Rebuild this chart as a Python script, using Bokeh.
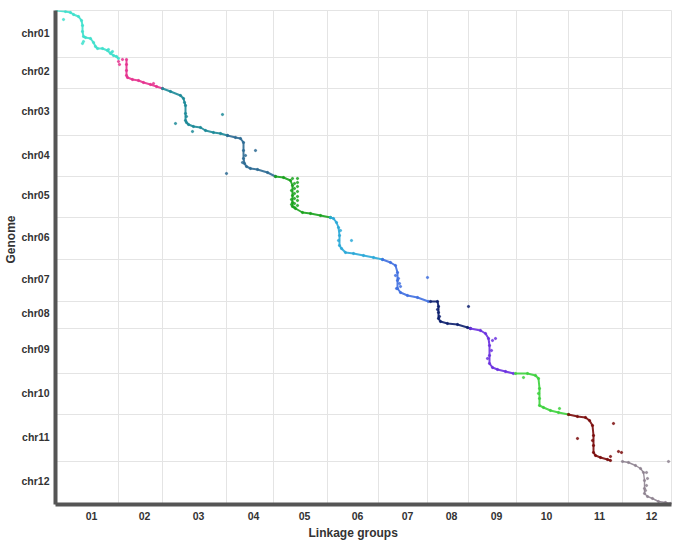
from bokeh.plotting import figure
from bokeh.models import Range1d, FixedTicker, Title
from bokeh.embed import file_html
from bokeh.resources import INLINE

# ---------------- data ----------------
LG_LABELS = ["01", "02", "03", "04", "05", "06", "07", "08", "09", "10", "11", "12"]
LG_BOUNDS = [0, 63, 107, 171, 218, 272, 323, 372, 413, 461, 513, 567, 616]
CHR_LABELS = ["chr01", "chr02", "chr03", "chr04", "chr05", "chr06",
              "chr07", "chr08", "chr09", "chr10", "chr11", "chr12"]
CHR_BOUNDS = [0, 47, 78, 125, 166, 207, 249, 291, 318, 363, 404, 451, 494]
COLORS = ["#3fe0cc", "#e6338f", "#1c8a98", "#2c6a93", "#18a21c", "#2aa9d8",
          "#3f6fe0", "#0c1f6e", "#6a30e0", "#3dd13d", "#7a0b0b", "#8e8390"]

# main marker chains (cumulative map position, cumulative genome position)
CHR01_MAP = [1, 10, 15, 18, 23, 26, 27, 27, 28, 30, 35, 38, 40, 42, 47, 52, 55, 58, 61, 63]
CHR01_POS = [0, 1, 2, 4, 6, 10, 15, 21, 26, 27, 28, 32, 36, 38, 38, 40, 43, 45, 46, 48]
CHR02_MAP = [71, 71, 71, 71, 72, 77, 83, 88, 95, 101, 107]
CHR02_POS = [49, 54, 60, 65, 67, 69, 70, 72, 74, 76, 78]
CHR03_MAP = [107, 115, 125, 128, 130, 130, 130, 131, 133, 138, 145, 150, 158, 165, 172]
CHR03_POS = [78, 81, 85, 88, 95, 103, 110, 112, 114, 116, 117, 120, 122, 123, 125]
CHR04_MAP = [172, 180, 185, 188, 188, 188, 189, 191, 195, 202, 212, 220]
CHR04_POS = [125, 127, 128, 132, 140, 148, 153, 156, 158, 159, 162, 166]
CHR05_MAP = [220, 228, 235, 237, 237, 237, 237, 240, 247, 255, 265, 275]
CHR05_POS = [166, 167, 170, 175, 185, 192, 196, 198, 202, 203, 205, 207]
CHR06_MAP = [275, 278, 281, 283, 284, 284, 286, 290, 298, 308, 318, 327]
CHR06_POS = [207, 208, 212, 217, 225, 235, 238, 242, 243, 245, 247, 249]
CHR07_MAP = [327, 335, 340, 342, 342, 342, 345, 352, 362, 373]
CHR07_POS = [249, 252, 255, 262, 270, 278, 282, 285, 287, 291]
CHR08_MAP = [375, 382, 383, 383, 383, 385, 392, 402, 412, 415]
CHR08_POS = [291, 291, 296, 302, 308, 311, 313, 314, 317, 318]
CHR09_MAP = [415, 425, 430, 433, 434, 434, 434, 437, 442, 450, 458]
CHR09_POS = [318, 320, 323, 328, 335, 345, 353, 357, 359, 361, 363]
CHR10_MAP = [460, 472, 480, 483, 484, 484, 484, 488, 495, 503, 513]
CHR10_POS = [363, 363, 365, 368, 378, 388, 395, 397, 400, 402, 404]
CHR11_MAP = [513, 522, 530, 534, 537, 538, 538, 538, 540, 545, 552, 555]
CHR11_POS = [404, 406, 407, 410, 415, 425, 435, 442, 445, 447, 449, 450]
CHR12_MAP = [567, 573, 580, 585, 588, 589, 589, 589, 592, 597, 603, 610, 615]
CHR12_POS = [451, 452, 455, 458, 462, 470, 478, 483, 486, 488, 491, 492, 493]

# scattered / off-chain markers
CHR01_OUT_MAP = [8, 28, 27, 53, 56, 57]
CHR01_OUT_POS = [9, 31, 33, 39, 42, 41]
CHR02_OUT_MAP = [63, 67, 64, 98]
CHR02_OUT_POS = [51, 49, 54, 73]
CHR03_OUT_MAP = [120, 137, 167, 129, 131]
CHR03_OUT_POS = [113, 121, 104, 92, 106]
CHR04_OUT_MAP = [200, 171, 190, 187]
CHR04_OUT_POS = [140, 163, 145, 152]
CHR05_OUT_MAP = [237, 242, 242, 242, 242, 242, 242, 242, 239, 239, 239, 239, 239, 239, 236, 236, 236]
CHR05_OUT_POS = [168, 168, 172, 176, 181, 186, 190, 195, 173, 178, 183, 188, 193, 197, 180, 189, 194]
CHR06_OUT_MAP = [296, 283, 285]
CHR06_OUT_POS = [230, 230, 220]
CHR07_OUT_MAP = [340, 344, 341, 343, 345, 372]
CHR07_OUT_POS = [265, 273, 278, 268, 276, 267]
CHR08_OUT_MAP = [413, 382, 384]
CHR08_OUT_POS = [296, 299, 306]
CHR09_OUT_MAP = [440, 437, 436, 432]
CHR09_OUT_POS = [328, 330, 340, 348]
CHR10_OUT_MAP = [468, 504, 483]
CHR10_OUT_POS = [367, 398, 383]
CHR11_OUT_MAP = [522, 558, 563, 566, 555, 537]
CHR11_OUT_POS = [428, 413, 441, 442, 446, 430]
CHR12_OUT_MAP = [591, 592, 591, 590, 613]
CHR12_OUT_POS = [462, 468, 475, 480, 451]

MAIN_MAP = [CHR01_MAP, CHR02_MAP, CHR03_MAP, CHR04_MAP, CHR05_MAP, CHR06_MAP,
            CHR07_MAP, CHR08_MAP, CHR09_MAP, CHR10_MAP, CHR11_MAP, CHR12_MAP]
MAIN_POS = [CHR01_POS, CHR02_POS, CHR03_POS, CHR04_POS, CHR05_POS, CHR06_POS,
            CHR07_POS, CHR08_POS, CHR09_POS, CHR10_POS, CHR11_POS, CHR12_POS]
OUT_MAP = [CHR01_OUT_MAP, CHR02_OUT_MAP, CHR03_OUT_MAP, CHR04_OUT_MAP, CHR05_OUT_MAP, CHR06_OUT_MAP,
           CHR07_OUT_MAP, CHR08_OUT_MAP, CHR09_OUT_MAP, CHR10_OUT_MAP, CHR11_OUT_MAP, CHR12_OUT_MAP]
OUT_POS = [CHR01_OUT_POS, CHR02_OUT_POS, CHR03_OUT_POS, CHR04_OUT_POS, CHR05_OUT_POS, CHR06_OUT_POS,
           CHR07_OUT_POS, CHR08_OUT_POS, CHR09_OUT_POS, CHR10_OUT_POS, CHR11_OUT_POS, CHR12_OUT_POS]

# ---------------- figure ----------------
p = figure(width=681, height=546,
           x_range=Range1d(0, LG_BOUNDS[-1]), y_range=Range1d(CHR_BOUNDS[-1], 0),
           output_backend="svg", toolbar_location=None,
           min_border_left=55, min_border_right=10, min_border_top=10, min_border_bottom=42)
p.background_fill_color = "white"
p.border_fill_color = "white"
p.outline_line_color = "#e4e4e4"

# tick positions at the middle of each group (labels slightly nudged as in the original)
x_ticks = [int(round((LG_BOUNDS[i] + LG_BOUNDS[i + 1]) / 2 + 4)) for i in range(12)]
y_ticks = [int(round((CHR_BOUNDS[i] + CHR_BOUNDS[i + 1]) / 2 - 2)) for i in range(12)]

p.xaxis.ticker = FixedTicker(ticks=x_ticks)
p.xaxis.major_label_overrides = {t: l for t, l in zip(x_ticks, LG_LABELS)}
p.yaxis.ticker = FixedTicker(ticks=y_ticks)
p.yaxis.major_label_overrides = {t: l for t, l in zip(y_ticks, CHR_LABELS)}

p.xgrid.ticker = FixedTicker(ticks=LG_BOUNDS[1:-1])
p.ygrid.ticker = FixedTicker(ticks=CHR_BOUNDS[1:-1])
p.grid.grid_line_color = "#e4e4e4"
p.grid.grid_line_width = 1

for ax in (p.xaxis, p.yaxis):
    ax.axis_line_width = 4
    ax.axis_line_color = "#555555"
    ax.major_tick_line_color = None
    ax.minor_tick_line_color = None
    ax.major_tick_out = 0
    ax.major_tick_in = 0
    ax.minor_tick_out = 0
    ax.major_label_text_font = "Liberation Sans"
    ax.major_label_text_font_style = "bold"
    ax.major_label_text_font_size = "10.5px"
    ax.major_label_text_color = "#333333"

p.xaxis.major_label_standoff = 7
p.yaxis.major_label_standoff = 6

# axis titles (slightly off-centre, as in the original)
x_title = Title(text="Linkage groups", align="left", offset=253, standoff=2,
                text_font="Liberation Sans", text_font_size="12px",
                text_font_style="bold", text_color="#333333")
y_title = Title(text="Genome", align="left", offset=241, standoff=2,
                text_font="Liberation Sans", text_font_size="12px",
                text_font_style="bold", text_color="#333333")
p.add_layout(x_title, "below")
p.add_layout(y_title, "left")

for i in range(12):
    c = COLORS[i]
    w = 1.4 if i == 11 else 2.0
    p.line(MAIN_MAP[i], MAIN_POS[i], line_color=c, line_width=w, line_alpha=0.9)
    p.scatter(MAIN_MAP[i], MAIN_POS[i], size=2.2, fill_color=c, line_color=c, alpha=0.9)
    p.scatter(OUT_MAP[i], OUT_POS[i], size=2.2, fill_color=c, line_color=c, alpha=0.85)

open("out.html", "w").write(file_html(p, INLINE))
